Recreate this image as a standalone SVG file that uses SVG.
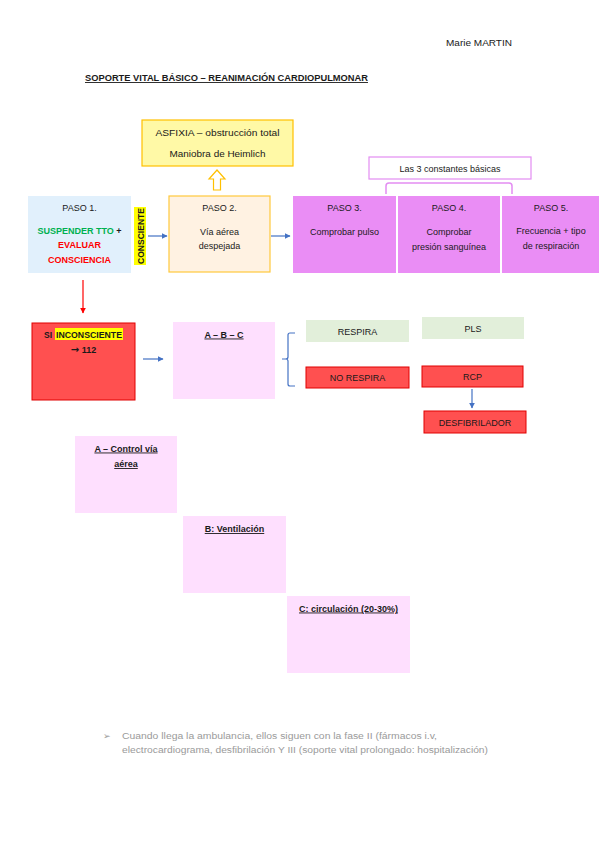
<svg xmlns="http://www.w3.org/2000/svg" width="599" height="848" viewBox="0 0 599 848">
<style>
text{font-family:"Liberation Sans",Arial,sans-serif;font-size:9px;fill:#1a1a1a}
.c{text-anchor:middle}
.b{font-weight:bold}
.u{text-decoration:underline}
.red{fill:#ff5050;stroke:#e00000;stroke-width:1}
.pink{fill:#fedffe}
.green{fill:#e2efda}
.vio{fill:#ea8df5}
.blue{stroke:#4472c4;stroke-width:1.2;fill:none}
</style>
<defs>
<marker id="ab" viewBox="0 0 10 10" refX="9" refY="5" markerWidth="5" markerHeight="5" orient="auto"><path d="M0,0 L10,5 L0,10 z" fill="#4472c4"/></marker>
<marker id="ar" viewBox="0 0 10 10" refX="9" refY="5" markerWidth="5" markerHeight="5" orient="auto"><path d="M0,0 L10,5 L0,10 z" fill="#ff0000"/></marker>
</defs>
<rect width="599" height="848" fill="#ffffff"/>

<text x="446" y="46" textLength="66" lengthAdjust="spacingAndGlyphs">Marie MARTIN</text>
<text x="85" y="81" class="b u" textLength="283" lengthAdjust="spacingAndGlyphs">SOPORTE VITAL BÁSICO – REANIMACIÓN CARDIOPULMONAR</text>

<g id="asfixia">
<rect x="142" y="120" width="151" height="46" fill="#fff9a6" stroke="#ffc000" stroke-width="1.2"/>
<text x="217.5" y="135.5" class="c" textLength="124" lengthAdjust="spacingAndGlyphs">ASFIXIA – obstrucción total</text>
<text x="217.5" y="157" class="c" textLength="96" lengthAdjust="spacingAndGlyphs">Maniobra de Heimlich</text>
</g>

<g id="paso1">
<rect x="28" y="196" width="103" height="77" fill="#e1f0fc"/>
<text x="79.5" y="211" class="c">PASO 1.</text>
<text x="79.5" y="234" class="c b"><tspan style="fill:#00b050">SUSPENDER TTO</tspan> +</text>
<text x="79.5" y="248" class="c b" style="fill:#ff0000">EVALUAR</text>
<text x="79.5" y="263" class="c b" style="fill:#ff0000">CONSCIENCIA</text>
</g>

<g id="consciente">
<rect x="134" y="207" width="12" height="58" fill="#ffff00"/>
<text transform="translate(143.5,236) rotate(-90)" class="c b" style="font-size:8.5px" textLength="56" lengthAdjust="spacingAndGlyphs">CONSCIENTE</text>
</g>

<g id="paso2">
<rect x="169" y="196" width="101" height="76" fill="#fff2e2" stroke="#ffc93c" stroke-width="1.2"/>
<text x="219.5" y="211" class="c">PASO 2.</text>
<text x="219.5" y="235" class="c">Vía aérea</text>
<text x="219.5" y="249" class="c">despejada</text>
</g>

<g id="paso3">
<rect x="293" y="196" width="103" height="77" class="vio"/>
<text x="344.5" y="211" class="c">PASO 3.</text>
<text x="344.5" y="235" class="c">Comprobar pulso</text>
</g>
<g id="paso4">
<rect x="398" y="196" width="102" height="77" class="vio"/>
<text x="449" y="211" class="c">PASO 4.</text>
<text x="449" y="235" class="c">Comprobar</text>
<text x="449" y="250" class="c">presión sanguínea</text>
</g>
<g id="paso5">
<rect x="502" y="196" width="97" height="77" class="vio"/>
<text x="551" y="211" class="c">PASO 5.</text>
<text x="551" y="234" class="c">Frecuencia + tipo</text>
<text x="551" y="249" class="c">de respiración</text>
</g>

<g id="constantes">
<rect x="369" y="157" width="162" height="22" fill="#ffffff" stroke="#e38df2" stroke-width="1.2"/>
<text x="450" y="172" class="c">Las 3 constantes básicas</text>
</g>

<g id="inconsciente">
<rect x="32" y="323" width="103" height="77" class="red"/>
<rect x="55" y="328" width="68" height="12" fill="#ffff00"/>
<text x="44" y="337.5" class="b" style="font-size:8.5px">SI</text>
<text x="56" y="337.5" class="b" style="font-size:8.5px" textLength="66" lengthAdjust="spacingAndGlyphs">INCONSCIENTE</text>
<text x="83.5" y="353" class="c b"><tspan style="font-family:'DejaVu Sans',sans-serif;font-size:10px">→</tspan> 112</text>
</g>

<g id="abc">
<rect x="173" y="322" width="102" height="77" class="pink"/>
<text x="224" y="337.5" class="c b u">A – B – C</text>
</g>

<g id="respira">
<rect x="306" y="320" width="103" height="22" class="green"/>
<text x="357.5" y="334.5" class="c">RESPIRA</text>
</g>
<g id="pls">
<rect x="422" y="317" width="102" height="22" class="green"/>
<text x="473" y="331.5" class="c">PLS</text>
</g>
<g id="norespira">
<rect x="306" y="367" width="103" height="21" class="red"/>
<text x="357.5" y="381" class="c">NO RESPIRA</text>
</g>
<g id="rcp">
<rect x="422" y="366" width="101" height="21" class="red"/>
<text x="472.5" y="380" class="c">RCP</text>
</g>
<g id="desfibrilador">
<rect x="424" y="411" width="102" height="22" class="red"/>
<text x="475" y="425.5" class="c">DESFIBRILADOR</text>
</g>

<g id="a-control">
<rect x="75" y="436" width="102" height="77" class="pink"/>
<text x="126" y="451.5" class="c b u">A – Control vía</text>
<text x="126" y="467" class="c b u">aérea</text>
</g>
<g id="b-ventilacion">
<rect x="183" y="516" width="103" height="77" class="pink"/>
<text x="234.5" y="532" class="c b u">B: Ventilación</text>
</g>
<g id="c-circulacion">
<rect x="287" y="596" width="123" height="77" class="pink"/>
<text x="348.5" y="611.5" class="c b u">C: circulación (20-30%)</text>
</g>

<g id="connectors">
<path d="M213.5,190 V179 H209 L217,170 L225,179 H220.5 V190 Z" fill="#ffffff" stroke="#ffc000" stroke-width="1.2"/>
<line x1="148" y1="236" x2="167" y2="236" class="blue" marker-end="url(#ab)"/>
<line x1="271" y1="236" x2="290" y2="236" class="blue" marker-end="url(#ab)"/>
<path d="M386,194 V186 Q386,183 389,183 H509 Q512,183 512,186 V194" fill="none" stroke="#e38df2" stroke-width="1.5"/>
<line x1="83" y1="280" x2="83" y2="313" stroke="#ff0000" stroke-width="1.2" marker-end="url(#ar)"/>
<line x1="143" y1="359" x2="163" y2="359" class="blue" marker-end="url(#ab)"/>
<path d="M295,333 H290 Q288,333 288,335 V357 Q288,359 285.5,359 H282 M285.5,359 Q288,359 288,361 V384 Q288,386 290,386 H295" class="blue"/>
<line x1="472" y1="389" x2="472" y2="408" class="blue" marker-end="url(#ab)"/>
</g>

<g id="footer">
<text x="103" y="739" style="fill:#9a9a9a;font-family:'DejaVu Sans',sans-serif;font-size:9px">➢</text>
<text x="122" y="739" style="fill:#9a9a9a;font-size:8.5px" textLength="315" lengthAdjust="spacingAndGlyphs">Cuando llega la ambulancia, ellos siguen con la fase II (fármacos i.v,</text>
<text x="122" y="753" style="fill:#9a9a9a;font-size:8.5px" textLength="366" lengthAdjust="spacingAndGlyphs">electrocardiograma, desfibrilación Y III (soporte vital prolongado: hospitalización)</text>
</g>
</svg>
